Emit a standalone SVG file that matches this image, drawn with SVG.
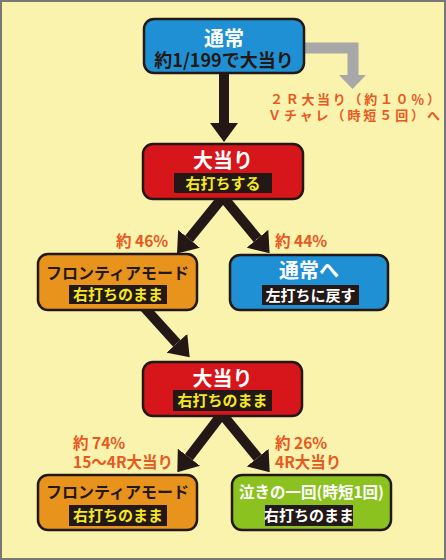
<svg xmlns="http://www.w3.org/2000/svg" width="446" height="560" viewBox="0 0 446 560">
<style>
text{font-family:"Noto Sans CJK JP","Noto Sans",sans-serif;font-weight:bold;text-anchor:middle}
.box{stroke:#231815;stroke-width:2.5}
.blue{fill:#1E90D3}.red{fill:#D6161B}.orange{fill:#E8931C}.green{fill:#8CC21F}
.lbl{fill:#231815}
.w{fill:#fff}.k{fill:#231815}.y{fill:#F5E81E}
.t1{font-size:20px}.t2{font-size:15px}
.pct{fill:#E8581F;font-size:15.5px;text-anchor:start;font-weight:bold}
.shaft{stroke:#231815;stroke-width:10;fill:none}
</style>
<defs>
<marker id="ah" markerUnits="userSpaceOnUse" markerWidth="19" markerHeight="28" viewBox="0 0 19 28" refX="0" refY="14" orient="auto">
<path d="M0,0 L19,14 L0,28 z" fill="#231815"/>
</marker>
</defs>
<rect x="1" y="1" width="444" height="558" fill="#FAF3AE" stroke="#777" stroke-width="2"/>
<g id="connectors">
<path d="M300,48 H353 V76" fill="none" stroke="#A8A8A8" stroke-width="11"/>
<polygon points="339,75 366,75 352.5,89" fill="#A8A8A8"/>
<line class="shaft" x1="224" y1="72" x2="224" y2="123" marker-end="url(#ah)"/>
<line class="shaft" x1="223" y1="197" x2="189" y2="238.8" marker-end="url(#ah)"/>
<line class="shaft" x1="223" y1="197" x2="257.5" y2="238.7" marker-end="url(#ah)"/>
<line class="shaft" x1="143" y1="306" x2="176.9" y2="343.3" marker-end="url(#ah)"/>
<line class="shaft" x1="222" y1="414" x2="188.9" y2="457.2" marker-end="url(#ah)"/>
<line class="shaft" x1="222" y1="414" x2="257.7" y2="457.6" marker-end="url(#ah)"/>
</g>
<g id="n_normal">
<rect class="box blue" x="144" y="19" width="160" height="54" rx="10"/>
<text class="t1 w" x="224" y="46">通常</text>
<text class="k" x="224" y="67" style="font-size:18px">約1/199で大当り</text>
</g>
<g id="note_2r">
<text class="pct" x="270" y="104" textLength="170" lengthAdjust="spacing" style="font-size:13px">２Ｒ大当り（約１０％）</text>
<text class="pct" x="268" y="120" textLength="172" lengthAdjust="spacing" style="font-size:13px">Ｖチャレ（時短５回）へ</text>
</g>
<g id="n_hit1">
<rect class="box red" x="143" y="144" width="160" height="55" rx="10"/>
<text class="t1 w" x="223" y="168">大当り</text>
<rect class="lbl" x="174" y="173" width="98" height="20"/>
<text class="t2 y" x="223" y="189">右打ちする</text>
</g>
<g id="lbl_46"><text class="pct" x="116" y="247">約 46%</text></g>
<g id="lbl_44"><text class="pct" x="275" y="247">約 44%</text></g>
<g id="n_frontier1">
<rect class="box orange" x="38" y="254" width="159" height="56" rx="10"/>
<text class="k" x="117.5" y="279" style="font-size:16px">フロンティアモード</text>
<rect class="lbl" x="69" y="285" width="98" height="19"/>
<text class="t2 y" x="118" y="300">右打ちのまま</text>
</g>
<g id="n_back">
<rect class="box blue" x="230" y="255" width="158" height="55" rx="10"/>
<text class="t1 w" x="309" y="278">通常へ</text>
<rect class="lbl" x="262" y="285" width="97" height="20"/>
<text class="t2 w" x="310.5" y="301">左打ちに戻す</text>
</g>
<g id="n_hit2">
<rect class="box red" x="143" y="362" width="159" height="54" rx="10"/>
<text class="t1 w" x="222.5" y="386">大当り</text>
<rect class="lbl" x="173" y="390" width="99" height="21"/>
<text class="t2 y" x="222.5" y="406">右打ちのまま</text>
</g>
<g id="lbl_74">
<text class="pct" x="73" y="449">約 74%</text>
<text class="pct" x="73" y="468">15〜4R大当り</text>
</g>
<g id="lbl_26">
<text class="pct" x="275" y="449">約 26%</text>
<text class="pct" x="275" y="468">4R大当り</text>
</g>
<g id="n_frontier2">
<rect class="box orange" x="38" y="475" width="159" height="55" rx="10"/>
<text class="k" x="117.5" y="498" style="font-size:16px">フロンティアモード</text>
<rect class="lbl" x="69" y="505" width="98" height="21"/>
<text class="t2 y" x="118" y="521">右打ちのまま</text>
</g>
<g id="n_naki">
<rect class="box green" x="232" y="475" width="159" height="55" rx="10"/>
<text class="w" x="311.5" y="498" style="font-size:15.5px">泣きの一回(時短1回)</text>
<rect class="lbl" x="265" y="505" width="88" height="21"/>
<text class="t2 w" x="309" y="521">右打ちのまま</text>
</g>
</svg>
